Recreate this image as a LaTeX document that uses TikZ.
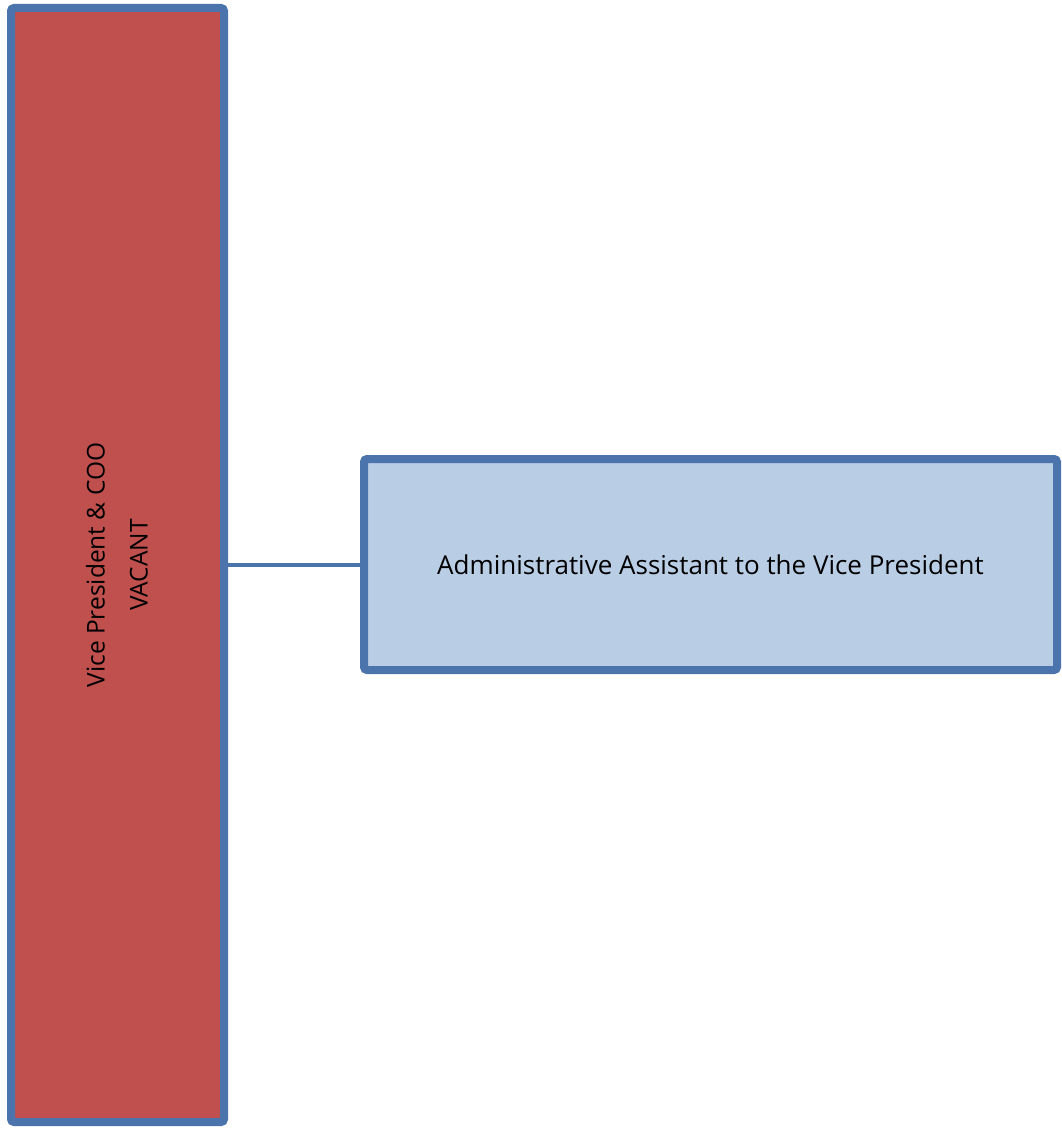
\documentclass[tikz,border=0pt]{standalone}
\usepackage{fontspec}
\setmainfont{Open Sans}
\usetikzlibrary{positioning,shadows}
\definecolor{boxline}{HTML}{4A74AB}
\definecolor{vpred}{HTML}{C0504D}
\definecolor{asstblue}{HTML}{B9CDE5}

\begin{document}
\begin{tikzpicture}[x=1pt,y=-1pt,
  box/.style={draw=boxline,line width=8pt,rounded corners=3pt,inner sep=0pt,
    font=\fontsize{26}{43}\selectfont,align=center,
    drop shadow={shadow xshift=2pt,shadow yshift=-2pt,opacity=0.25}}]
\useasboundingbox (0,0) rectangle (1062,1129);
% Vice President box
\node[box,fill=vpred,minimum width=213pt,minimum height=1114pt,
  font=\fontsize{24.5}{43}\selectfont] (vp) at (117.5,565)
  {\rotatebox{90}{\begin{tabular}{@{}c@{}}Vice President \& COO\\VACANT\end{tabular}}};
% Assistant box
\node[box,fill=asstblue,minimum width=693pt,minimum height=211pt] (asst) at (710.5,564.5)
  {Administrative Assistant to the Vice President};
% link
\draw[boxline,line width=4pt] (vp.east) -- (vp.east -| asst.west);
\end{tikzpicture}
\end{document}
